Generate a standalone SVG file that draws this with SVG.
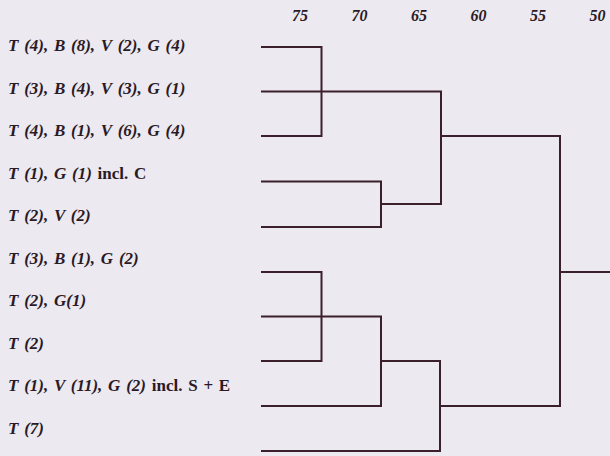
<svg xmlns="http://www.w3.org/2000/svg" width="610" height="456" viewBox="0 0 610 456">
<style>
.lab{font-family:"Liberation Serif","Times New Roman",serif;font-size:17px;font-weight:bold;font-style:italic;fill:#2b1a24;word-spacing:1.5px}
.up{font-style:normal}
.ax{font-family:"Liberation Serif","Times New Roman",serif;font-size:16px;font-weight:bold;font-style:italic;fill:#2b1a24;text-anchor:middle}
.ln{fill:none;stroke:#3b1f2b;stroke-width:2;stroke-linecap:square}
</style>
<rect width="610" height="456" fill="#ece9f1"/>
<g id="axis">
<text class="ax" x="300" y="21">75</text>
<text class="ax" x="359.5" y="21">70</text>
<text class="ax" x="419" y="21">65</text>
<text class="ax" x="478.5" y="21">60</text>
<text class="ax" x="538" y="21">55</text>
<text class="ax" x="597.5" y="21">50</text>
</g>
<g id="leaf1"><text class="lab" x="8" y="51">T (4), B (8), V (2), G (4)</text></g>
<g id="leaf2"><text class="lab" x="8" y="93.5">T (3), B (4), V (3), G (1)</text></g>
<g id="leaf3"><text class="lab" x="8" y="136">T (4), B (1), V (6), G (4)</text></g>
<g id="leaf4"><text class="lab" x="8" y="178.5">T (1), G (1) <tspan class="up">incl. C</tspan></text></g>
<g id="leaf5"><text class="lab" x="8" y="221">T (2), V (2)</text></g>
<g id="leaf6"><text class="lab" x="8" y="263.5">T (3), B (1), G (2)</text></g>
<g id="leaf7"><text class="lab" x="8" y="306">T (2), G(1)</text></g>
<g id="leaf8"><text class="lab" x="8" y="348.5">T (2)</text></g>
<g id="leaf9"><text class="lab" x="8" y="391">T (1), V (11), G (2) <tspan class="up">incl. S + E</tspan></text></g>
<g id="leaf10"><text class="lab" x="8" y="433.5">T (7)</text></g>
<g id="connectors">
<path class="ln" d="M262,47 H321.5 V136 H262"/>
<path class="ln" d="M262,91.5 H441 V204 H381"/>
<path class="ln" d="M262,181.5 H381 V227 H262"/>
<path class="ln" d="M441,136 H560 V406 H440"/>
<path class="ln" d="M560,272 H610"/>
<path class="ln" d="M262,272 H321.5 V361 H262"/>
<path class="ln" d="M262,316.5 H381 V406 H262"/>
<path class="ln" d="M381,361 H440 V451 H262"/>
</g>
</svg>
